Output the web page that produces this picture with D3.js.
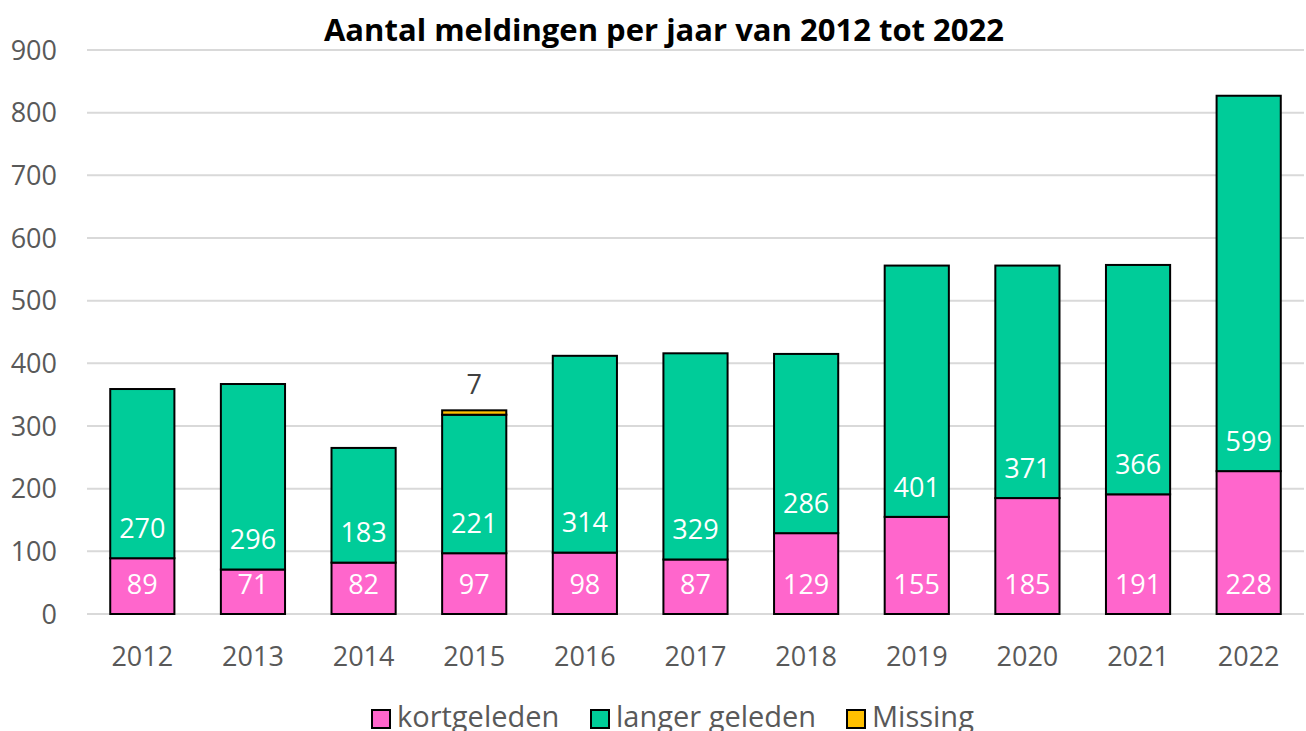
<!DOCTYPE html>
<html>
<head>
<meta charset="utf-8">
<script src="https://cdn.jsdelivr.net/npm/d3@7"></script>
<style>
  body { margin: 0; background: #fff; }
  text { font-family: "Open Sans", Lato, sans-serif; }
</style>
</head>
<body>
<div id="chart"></div>
<script>
const years = ["2012", "2013", "2014", "2015", "2016", "2017", "2018", "2019", "2020", "2021", "2022"];
const kortgeleden = [89, 71, 82, 97, 98, 87, 129, 155, 185, 191, 228];
const langerGeleden = [270, 296, 183, 221, 314, 329, 286, 401, 371, 366, 599];
const missing = [0, 0, 0, 7, 0, 0, 0, 0, 0, 0, 0];
const yTicks = [0, 100, 200, 300, 400, 500, 600, 700, 800, 900];

const seriesNames = ["kortgeleden", "langer geleden", "Missing"];
const colors = ["#ff66cc", "#00cc99", "#ffc000"];

const W = 1306, H = 731;
const margin = { top: 50, right: 2, bottom: 117, left: 87 };
const width = W - margin.left - margin.right;
const height = H - margin.top - margin.bottom;

const svg = d3.select("#chart").append("svg")
    .attr("width", W)
    .attr("height", H);

const g = svg.append("g")
    .attr("transform", `translate(${margin.left},${margin.top})`);

const x = d3.scaleBand().domain(years).range([0, width]).paddingInner(0.42).paddingOuter(0.21);
const y = d3.scaleLinear().domain([0, 900]).range([height, 0]);

// gridlines
g.selectAll(".grid")
    .data(yTicks)
    .enter().append("line")
    .attr("x1", 0).attr("x2", width)
    .attr("y1", d => y(d)).attr("y2", d => y(d))
    .attr("stroke", "#d9d9d9")
    .attr("stroke-width", 2);

// y axis labels
g.selectAll(".ylab")
    .data(yTicks)
    .enter().append("text")
    .attr("x", -30)
    .attr("y", d => y(d))
    .attr("dy", "0.36em")
    .attr("text-anchor", "end")
    .attr("font-size", 27)
    .attr("fill", "#595959")
    .text(d => d);

// x axis labels
g.selectAll(".xlab")
    .data(years)
    .enter().append("text")
    .attr("x", d => x(d) + x.bandwidth() / 2)
    .attr("y", height + 42)
    .attr("dy", "0.36em")
    .attr("text-anchor", "middle")
    .attr("font-size", 27)
    .attr("fill", "#595959")
    .text(d => d);

const rows = years.map((yr, i) => ({ year: yr, k: kortgeleden[i], l: langerGeleden[i], m: missing[i] }));
const stack = d3.stack().keys(["k", "l", "m"]);
const layers = stack(rows);

layers.forEach((layer, li) => {
    g.selectAll(".bar" + li)
        .data(layer.filter(d => d[1] - d[0] > 0))
        .enter().append("rect")
        .attr("x", d => x(d.data.year))
        .attr("y", d => y(d[1]))
        .attr("width", x.bandwidth())
        .attr("height", d => y(d[0]) - y(d[1]))
        .attr("fill", colors[li])
        .attr("stroke", "#000")
        .attr("stroke-width", 2);
});

// segment labels, inside base
[["k", 0], ["l", 1]].forEach(([key, li]) => {
    g.selectAll(".lab" + key)
        .data(layers[li])
        .enter().append("text")
        .attr("x", d => x(d.data.year) + x.bandwidth() / 2)
        .attr("y", d => y(d[0]) - 30)
        .attr("dy", "0.36em")
        .attr("text-anchor", "middle")
        .attr("font-size", 27)
        .attr("fill", "#fff")
        .text(d => d.data[key]);
});

// missing: above the bar
g.selectAll(".lm")
    .data(layers[2].filter(d => d.data.m > 0))
    .enter().append("text")
    .attr("x", d => x(d.data.year) + x.bandwidth() / 2)
    .attr("y", d => y(d[1]) - 26)
    .attr("dy", "0.36em")
    .attr("text-anchor", "middle")
    .attr("font-size", 27)
    .attr("fill", "#404040")
    .text(d => d.data.m);

// title
svg.append("text")
    .attr("x", 664)
    .attr("y", 30)
    .attr("dy", "0.36em")
    .attr("text-anchor", "middle")
    .attr("font-size", 31)
    .attr("font-weight", "bold")
    .attr("fill", "#000")
    .text("Aantal meldingen per jaar van 2012 tot 2022");

// legend
const legendX = [371, 590, 846];
const legend = svg.selectAll(".leg")
    .data(seriesNames)
    .enter().append("g")
    .attr("transform", (d, i) => `translate(${legendX[i]}, 718)`);

legend.append("rect")
    .attr("x", 1).attr("y", -8)
    .attr("width", 18).attr("height", 18)
    .attr("fill", (d, i) => colors[i])
    .attr("stroke", "#000")
    .attr("stroke-width", 2);

legend.append("text")
    .attr("x", 26)
    .attr("y", 0)
    .attr("dy", "0.3em")
    .attr("font-size", 29)
    .attr("fill", "#595959")
    .text(d => d);
</script>
</body>
</html>
